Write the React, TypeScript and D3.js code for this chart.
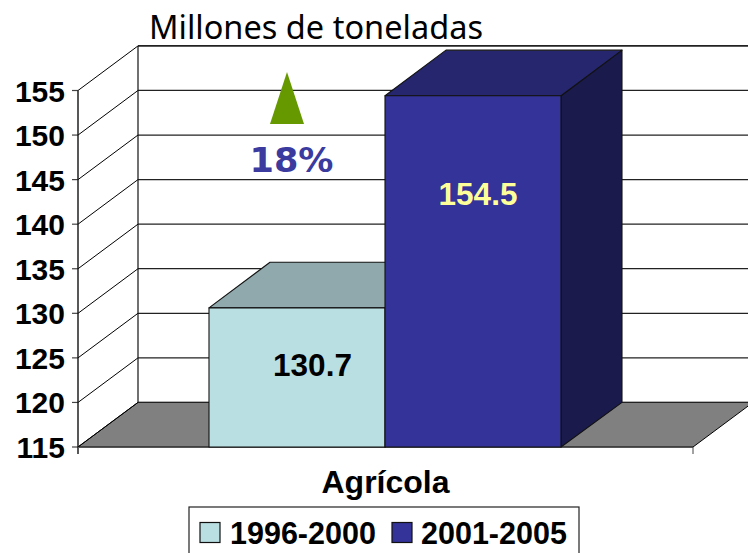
import React from "react";
import * as d3 from "d3";

const seriesNames = ["1996-2000", "2001-2005"];
const seriesValues = [130.7, 154.5];
const category = "Agrícola";
const yTicks = [115, 120, 125, 130, 135, 140, 145, 150, 155];
const title = "Millones de toneladas";
const changeLabel = "18%";
const frontFill = ["#BADFE3", "#333399"];
const topFill = ["#8FA9AD", "#26266F"];
const sideFill = ["#8FA9AD", "#1A1A4D"];
const valueColor = ["#000000", "#FFFF99"];

const W = 748, H = 553;
const DX = 60, DY = 44.6;
const y = d3.scaleLinear().domain([115, 155]).range([447, 90.5]);
const x = d3.scaleBand().domain(seriesNames).range([209, 561]).padding(0);
const X0 = 78, X1 = 693;
const pts = (a: number[][]) => a.map(p => p.join(",")).join(" ");
const sans = "'Liberation Sans', Arial, sans-serif";

export default function App() {
  return (
    <svg width={W} height={H} style={{ position: "fixed", left: 0, top: 0, background: "#fff" }} fontFamily={sans}>
      <text x={149} y={38.5} fontFamily="'Noto Sans', sans-serif" fontSize={33.5} textLength={334} lengthAdjust="spacingAndGlyphs" fill="#000">{title}</text>
      {/* floor */}
      <polygon points={pts([[X0, 447], [X1, 447], [X1 + DX, 447 - DY], [X0 + DX, 447 - DY]])} fill="#808080" stroke="#000" strokeWidth={1} />
      {/* back wall lines and side wall lines */}
      {yTicks.map(t => (
        <g key={t}>
          <line x1={X0} x2={X0 + DX} y1={y(t)} y2={y(t) - DY} stroke="#000" strokeWidth={1} />
          <line x1={X0 + DX} x2={W} y1={y(t) - DY} y2={y(t) - DY} stroke="#222" strokeWidth={t === 155 ? 1.6 : 1.2} />
          <line x1={X0 - 6} x2={X0} y1={y(t)} y2={y(t)} stroke="#444" strokeWidth={1.2} />
          <text x={65} y={y(t) + 11} textAnchor="end" fontSize={30} fontWeight="bold" fill="#000">{t}</text>
        </g>
      ))}
      <line x1={X0} x2={X0} y1={y(155)} y2={454} stroke="#111" strokeWidth={1.4} />
      <line x1={X0 + DX} x2={X0 + DX} y1={y(155) - DY} y2={447 - DY} stroke="#111" strokeWidth={1.2} />
      <line x1={X0} x2={X1} y1={447.5} y2={447.5} stroke="#555" strokeWidth={1.2} />
      <line x1={X1} x2={X1} y1={447} y2={454} stroke="#444" strokeWidth={1} />
      {/* bars */}
      {seriesNames.map((s, i) => {
        const l = x(s)!, r = l + x.bandwidth(), t = y(seriesValues[i]) + 0.8;
        return (
          <g key={s} stroke="#111" strokeWidth={1.1} strokeLinejoin="round">
            <polygon points={pts([[r, 447], [r + DX + 1, 447 - DY], [r + DX + 1, t - DY - 1], [r, t]])} fill={sideFill[i]} />
            <polygon points={pts([[l, t], [l + DX + 1, t - DY - 1], [r + DX + 1, t - DY - 1], [r, t]])} fill={topFill[i]} />
            <rect x={l} y={t} width={x.bandwidth()} height={447 - t} fill={frontFill[i]} />
          </g>
        );
      })}
      {seriesNames.map((s, i) => (
        <text key={s} x={x(s)! + x.bandwidth() / 2 + (i === 0 ? 15.5 : 5)} y={i === 0 ? 375.5 : 204.5} textAnchor="middle" fontSize={31.5} fontWeight="bold" fill={valueColor[i]}>{seriesValues[i]}</text>
      ))}
      {/* annotation */}
      <polygon points={pts([[287, 72], [304, 124], [270, 124]])} fill="#669900" />
      <text x={291.5} y={172} textAnchor="middle" fontFamily="'DejaVu Sans', sans-serif" fontSize={33} fontWeight="bold" textLength={84} lengthAdjust="spacingAndGlyphs" fill="#3A3A9F">{changeLabel}</text>
      {/* category */}
      <text x={385.5} y={492.5} textAnchor="middle" fontSize={32} fontWeight="bold" fill="#000">{category}</text>
      {/* legend */}
      <rect x={189} y={507} width={390} height={60} fill="#fff" stroke="#222" strokeWidth={1.2} />
      {seriesNames.map((s, i) => (
        <g key={s}>
          <rect x={i === 0 ? 200 : 392} y={522.5} width={20} height={20} fill={frontFill[i]} stroke="#111" strokeWidth={1.2} />
          <text x={i === 0 ? 230 : 421} y={544} fontSize={30.5} fontWeight="bold" fill="#000">{s}</text>
        </g>
      ))}
    </svg>
  );
}
